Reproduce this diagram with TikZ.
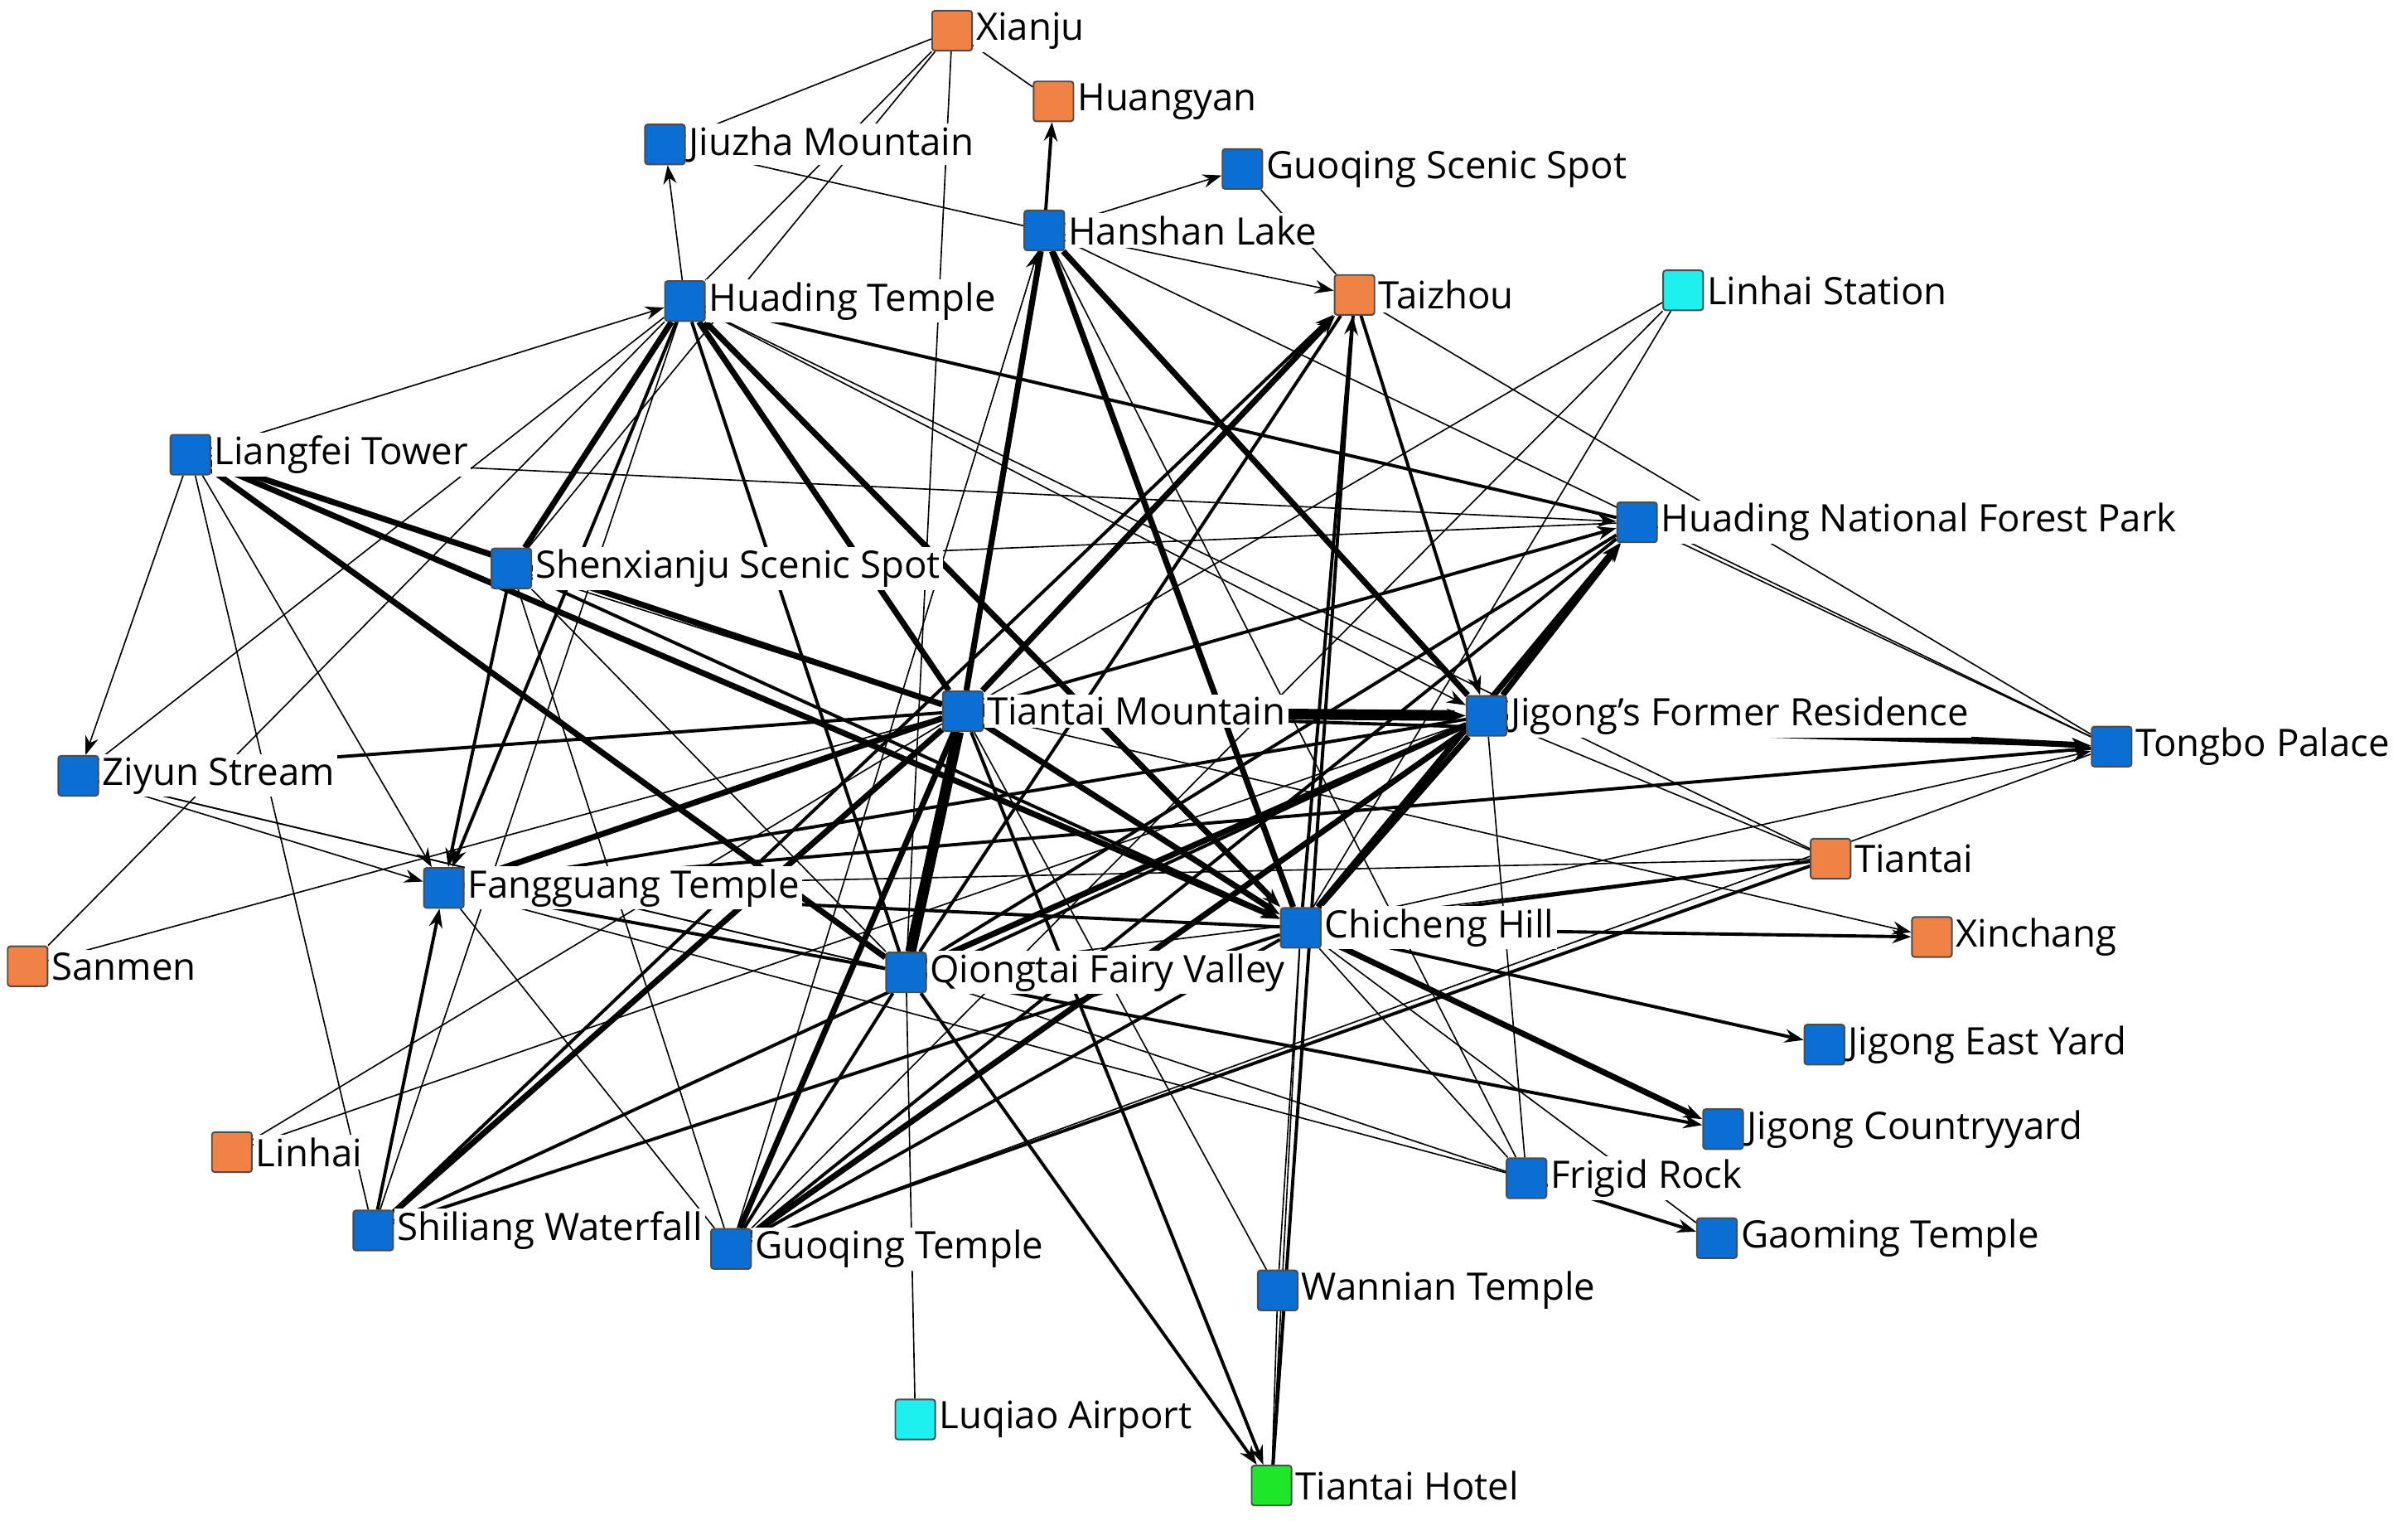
\documentclass[tikz,border=0pt]{standalone}
\usepackage{fontspec}
\setmainfont{Open Sans}
\usetikzlibrary{arrows.meta,backgrounds}
\definecolor{nb}{RGB}{10,110,210}
\definecolor{no}{RGB}{240,130,70}
\definecolor{nc}{RGB}{30,240,240}
\definecolor{ng}{RGB}{30,230,40}
\begin{document}
\begin{tikzpicture}[x=0.02cm,y=-0.02cm,
  n/.style={draw=black!70,line width=0.6pt,rounded corners=1pt,minimum size=0.52cm,inner sep=0pt,
    label={[fill=white,inner sep=1pt,font=\fontsize{14}{15}\selectfont]right:#1}},
  b/.style={n=#1,fill=nb}, o/.style={n=#1,fill=no}, c/.style={n=#1,fill=nc}, g/.style={n=#1,fill=ng},
  e/.style={line width=0.5pt},
  m/.style={line width=1.2pt},
  t/.style={line width=2.2pt},
  v/.style={line width=4pt},
  a/.style={-{Stealth[length=7pt,width=5pt]}},
  every path/.append style={black}]
\useasboundingbox (0,0) rectangle (1568,990);
\node[o=Xianju] (xj) at (620,20) {};
\node[o=Huangyan] (hy) at (686,66) {};
\node[b=Jiuzha Mountain] (jz) at (433,94) {};
\node[b=Guoqing Scenic Spot] (gss) at (809,110) {};
\node[b=Hanshan Lake] (hl) at (680,150) {};
\node[b=Huading Temple] (ht) at (446,196) {};
\node[o=Taizhou] (tz) at (882,192) {};
\node[c=Linhai Station] (ls) at (1096,189) {};
\node[b=Liangfei Tower] (lf) at (124,296) {};
\node[b=Huading National Forest Park] (hn) at (1066,340) {};
\node[b=Shenxianju Scenic Spot] (sx) at (333,370) {};
\node[b=Tiantai Mountain] (tm) at (627,463) {};
\node[b=Jigong's Former Residence] (jf) at (968,466) {};
\node[b=Tongbo Palace] (tb) at (1375,486) {};
\node[b=Ziyun Stream] (zy) at (51,505) {};
\node[o=Tiantai] (tt) at (1192,559) {};
\node[b=Fangguang Temple] (fg) at (289,578) {};
\node[b=Chicheng Hill] (ch) at (847,604) {};
\node[o=Xinchang] (xc) at (1258,610) {};
\node[o=Sanmen] (sm) at (18,629) {};
\node[b=Qiongtai Fairy Valley] (qv) at (590,633) {};
\node[b=Jigong East Yard] (je) at (1188,680) {};
\node[b=Jigong Countryyard] (jc) at (1122,735) {};
\node[o=Linhai] (lh) at (151,750) {};
\node[b=Frigid Rock] (fr) at (994,767) {};
\node[b=Shiliang Waterfall] (sw) at (243,801) {};
\node[b=Guoqing Temple] (gt) at (476,813) {};
\node[b=Gaoming Temple] (gm) at (1118,806) {};
\node[b=Wannian Temple] (wt) at (832,840) {};
\node[c=Luqiao Airport] (la) at (596,924) {};
\node[g=Tiantai Hotel] (th) at (828,967) {};
\begin{scope}[on background layer]
\draw[v,a] (tm) -- (jf);
\draw[t,a] (tm) -- (ch);
\draw[v] (tm) -- (qv);
\draw[t] (tm) -- (hl);
\draw[t] (tm) -- (ht);
\draw[t] (tm) -- (lf);
\draw[m,a] (tm) -- (hn);
\draw[t,a] (tm) -- (tz);
\draw[t,a] (tm) -- (fg);
\draw[t] (tm) -- (sw);
\draw[t] (tm) -- (gt);
\draw[m] (tm) -- (zy);
\draw[m,a] (tm) -- (th);
\draw[m,a] (tm) -- (tb);
\draw[e] (tm) -- (sx);
\draw[e,a] (tm) -- (xc);
\draw[e] (tm) -- (sm);
\draw[e] (tm) -- (ls);
\draw[t,a] (jf) -- (tb);
\draw[t,a] (jf) -- (hn);
\draw[t] (jf) -- (ch);
\draw[t] (jf) -- (hl);
\draw[m,a] (tz) -- (jf);
\draw[t] (jf) -- (qv);
\draw[m] (jf) -- (fg);
\draw[m] (jf) -- (sw);
\draw[t] (jf) -- (gt);
\draw[e,a] (ht) -- (jf);
\draw[e,a] (tt) -- (jf);
\draw[e] (jf) -- (lh);
\draw[t,a] (lf) -- (ch);
\draw[t,a] (ht) -- (ch);
\draw[m,a] (sx) -- (ch);
\draw[t,a] (ch) -- (jc);
\draw[m,a] (ch) -- (je);
\draw[m,a] (ch) -- (xc);
\draw[e] (ch) -- (th);
\draw[e] (ch) -- (wt);
\draw[t] (ch) -- (hl);
\draw[t,a] (ch) -- (hn);
\draw[m,a] (ch) -- (fg);
\draw[e] (ch) -- (fr);
\draw[m,a] (ch) -- (tz);
\draw[e] (ch) -- (gm);
\draw[m] (ch) -- (gt);
\draw[m] (ch) -- (sw);
\draw[e,a] (ch) -- (tb);
\draw[m] (ch) -- (tt);
\draw[m,a] (qv) -- (fg);
\draw[m] (qv) -- (ht);
\draw[m,a] (qv) -- (th);
\draw[m,a] (qv) -- (jc);
\draw[e] (qv) -- (zy);
\draw[e] (qv) -- (xj);
\draw[e] (qv) -- (sx);
\draw[m] (qv) -- (tz);
\draw[m] (qv) -- (hn);
\draw[e] (qv) -- (tt);
\draw[e] (qv) -- (fr);
\draw[m] (qv) -- (gt);
\draw[e] (qv) -- (lf);
\draw[m,a] (hl) -- (hy);
\draw[e,a] (hl) -- (gss);
\draw[e] (tz) -- (gss);
\draw[e,a] (hl) -- (tz);
\draw[e] (xj) -- (hy);
\draw[e] (xj) -- (ht);
\draw[e] (xj) -- (jz);
\draw[e] (xj) -- (sx);
\draw[e,a] (ht) -- (jz);
\draw[e] (jz) -- (hl);
\draw[e,a] (lf) -- (ht);
\draw[e] (ht) -- (zy);
\draw[m,a] (ht) -- (fg);
\draw[m] (ht) -- (hn);
\draw[t] (ht) -- (sx);
\draw[e] (ht) -- (tt);
\draw[e,a] (lf) -- (zy);
\draw[e,a] (lf) -- (fg);
\draw[e,a] (lf) -- (hn);
\draw[e] (lf) -- (sw);
\draw[t] (lf) -- (qv);
\draw[m,a] (sx) -- (fg);
\draw[e] (sx) -- (hn);
\draw[e] (sx) -- (gt);
\draw[e,a] (zy) -- (fg);
\draw[e] (zy) -- (qv);
\draw[e] (sm) -- (ht);
\draw[m,a] (sw) -- (fg);
\draw[e] (sw) -- (ht);
\draw[e] (lh) -- (tm);
\draw[e] (fg) -- (fr);
\draw[m] (fg) -- (tb);
\draw[e] (gt) -- (fg);
\draw[m] (gt) -- (tt);
\draw[m] (gt) -- (hn);
\draw[e,a] (gt) -- (hl);
\draw[m,a] (sw) -- (tz);
\draw[e] (ls) -- (gt);
\draw[e] (ls) -- (ch);
\draw[e] (tz) -- (tb);
\draw[e] (hn) -- (tb);
\draw[m] (tz) -- (th);
\draw[e] (hl) -- (tb);
\draw[e] (hl) -- (fr);
\draw[m,a] (fr) -- (gm);
\draw[e] (gt) -- (tb);
\draw[e] (la) -- (qv);
\draw[e] (th) -- (wt);
\draw[e] (wt) -- (tm);
\draw[e] (fr) -- (jf);
\draw[e] (tt) -- (fg);
\end{scope}
\end{tikzpicture}
\end{document}
